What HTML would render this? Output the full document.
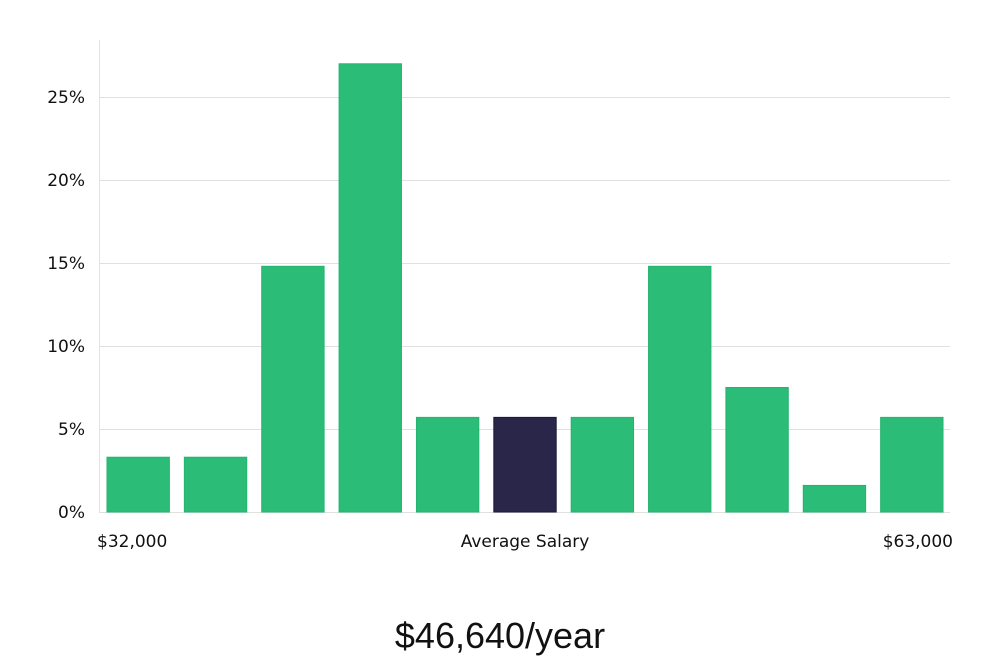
<!DOCTYPE html>
<html><head><meta charset="utf-8"><style>
html,body{margin:0;padding:0;background:#fff;}
svg{display:block;}
</style></head><body>
<svg id="chart" width="1000" height="660" xmlns="http://www.w3.org/2000/svg" font-family="'DejaVu Sans','Liberation Sans',sans-serif">
<g id="grid"></g>
<line x1="99.5" y1="40" x2="99.5" y2="512" stroke="#e3e3e3" stroke-width="1"/>
<g id="bars"></g>
<g id="yticks"></g>
<text x="97" y="547" font-size="17" fill="#111">$32,000</text>
<text x="525" y="547" font-size="17" fill="#111" text-anchor="middle">Average Salary</text>
<text x="953" y="547" font-size="17" fill="#111" text-anchor="end">$63,000</text>
<text x="500" y="648" font-size="36" fill="#111" text-anchor="middle" font-family="'Liberation Sans',sans-serif" font-weight="300">$46,640/year</text>
</svg>
<script>
const categories = ["b1","b2","b3","b4","b5","b6","b7","b8","b9","b10","b11"];
const values = [3.3,3.3,14.8,27.0,5.7,5.7,5.7,14.8,7.5,1.6,5.7];
const highlightIndex = [5];
const tickValues = [0,5,10,15,20,25];
const tickLabels = ["0%","5%","10%","15%","20%","25%"];

const NS="http://www.w3.org/2000/svg";
const x0=99, x1=950, yBase=512, pxPerUnit=16.6;
const band=(x1-x0)/categories.length;
function yScale(v){return yBase - v*pxPerUnit;}
function xScale(i){return x0 + band*i;}

const grid=document.getElementById('grid');
const yt=document.getElementById('yticks');
tickValues.forEach((t,i)=>{
  const y=Math.round(yScale(t))+0.5;
  const l=document.createElementNS(NS,'line');
  
  
  l.setAttribute('x1',x0);l.setAttribute('x2',x1);
  l.setAttribute('y1',y);l.setAttribute('y2',y);
  l.setAttribute('stroke','#e0e0e0');
  grid.appendChild(l);
  const tx=document.createElementNS(NS,'text');
  
  
  tx.setAttribute('x',85);tx.setAttribute('y',yScale(t)+6);
  tx.setAttribute('text-anchor','end');tx.setAttribute('font-size','17');
  tx.setAttribute('fill','#111');
  tx.textContent=tickLabels[i];
  yt.appendChild(tx);
});
const bars=document.getElementById('bars');
values.forEach((v,i)=>{
  const r=document.createElementNS(NS,'rect');
  
  
  const hi=highlightIndex.includes(i);
  r.setAttribute('x',xScale(i)+8);
  r.setAttribute('width',band-15);
  r.setAttribute('y',yScale(v));
  r.setAttribute('height',yBase-yScale(v));
  r.setAttribute('fill',hi?'#29264a':'#2bbd77');
  r.setAttribute('stroke',hi?'#1a1838':'#25b36f');
  r.setAttribute('stroke-width','1');
  bars.appendChild(r);
});
</script>
</body></html>
